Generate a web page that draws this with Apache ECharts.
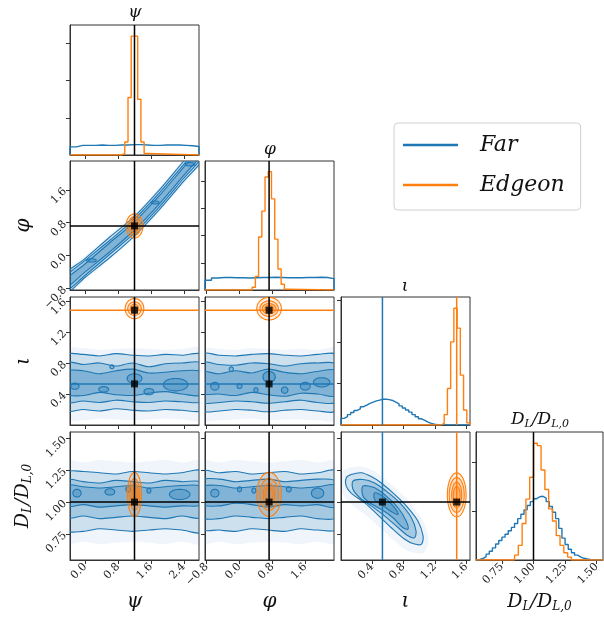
<!DOCTYPE html>
<html><head><meta charset="utf-8">
<script src="https://cdn.jsdelivr.net/npm/echarts@6/dist/echarts.min.js"></script>
<style>html,body{margin:0;padding:0;background:#fff}#c{width:604px;height:617px}</style>
</head><body><div id="c"></div>
<script>
// ---------------- DATA ----------------
const varNames = ['ψ', 'φ', 'ι', '{m|D}{s|L}{m|/D}{s|L,0}'];
const psiRange = [-0.37, 2.77];
const phiRange = [-0.84, 2.30];
const iotaRange = [0.0, 1.65];
const dlRange = [0.545, 1.55];
const psiTicks = [0.0, 0.8, 1.6, 2.4];
const phiTicks = [-0.8, 0.0, 0.8, 1.6];
const iotaTicks = [0.4, 0.8, 1.2, 1.6];
const dlTicks = [0.75, 1.00, 1.25, 1.50];
const tickDecimals = [1, 1, 1, 2];
// diagonal density axes
const psiDiagRange = [0, 3.5], psiDiagTicks = [1, 2, 3];
const phiDiagRange = [0, 4.74], phiDiagTicks = [1, 2, 3, 4];
const iotaDiagRange = [0, 3.08], iotaDiagTicks = [1, 2, 3];
const dlDiagRange = [0, 2.63], dlDiagTicks = [1, 2];

// truths
const truthPsi = 1.2, truthPhi = 0.72, truthIotaFar = 0.53, truthIotaEdge = 1.48, truthDL = 1.0;

// 1D histograms: [first bin edge, bin width, heights]
const psiHistFar = [-0.37, 0.157, [0.22,0.26,0.26,0.26,0.27,0.26,0.26,0.27,0.27,0.28,0.28,0.27,0.26,0.26,0.27,0.27,0.27,0.26,0.25,0.23]];
const psiHistEdge = [0.885, 0.0785, [0.04,0.35,1.55,3.2,3.2,1.5,0.35,0.04]];
const phiHistFar = [-0.84, 0.157, [0.36,0.44,0.46,0.46,0.45,0.45,0.44,0.45,0.46,0.46,0.47,0.46,0.45,0.45,0.45,0.46,0.46,0.47,0.46,0.42]];
const phiHistEdge = [0.3075, 0.0785, [0.1,0.5,1.95,2.9,4.15,4.35,3.35,1.87,0.77,0.21,0.03]];
const iotaHistFar = [0.0, 0.04125, [0.16,0.2,0.25,0.3,0.35,0.39,0.44,0.48,0.52,0.55,0.58,0.6,0.62,0.62,0.61,0.59,0.55,0.51,0.46,0.41,0.36,0.31,0.25,0.2,0.15,0.11,0.07,0.04,0.02,0.01]];
const iotaHistEdge = [1.2788, 0.04125, [0.04,0.25,0.88,2.0,2.81,2.33,1.2,0.36,0.05]];
const dlHistFar = [0.55, 0.025, [0.01,0.03,0.07,0.12,0.18,0.25,0.33,0.4,0.47,0.53,0.6,0.67,0.75,0.85,0.94,1.03,1.12,1.2,1.26,1.3,1.31,1.27,1.2,1.1,0.98,0.85,0.65,0.45,0.32,0.22,0.15,0.1,0.06,0.035,0.02,0.01]];
const dlHistEdge = [0.85, 0.03, [0.1,0.3,0.75,1.25,1.7,2.4,2.35,1.85,1.45,1.05,0.8,0.5,0.3,0.15,0.06]];

// Far 2D contours: bands [upper, lower] per level (haze, L1, L2, L3) at sample x values + inner blobs [cx, cy, rx, ry]
const psiSamples = [-0.45,-0.05,0.35,0.75,1.15,1.55,1.95,2.35,2.85];
const phiSamples = [-0.9,-0.5,-0.1,0.3,0.7,1.1,1.5,1.9,2.35];
const diagSamples = [-0.6,0.0,0.6,1.2,1.8,2.4,3.0];

const psiPhiBands = [
  [[-0.50,0.00,0.50,1.02,1.65,2.35,3.05],[-1.10,-0.60,-0.10,0.42,1.05,1.75,2.45]],
  [[-0.56,-0.07,0.45,0.95,1.59,2.30,2.99],[-1.04,-0.53,-0.05,0.48,1.11,1.81,2.51]],
  [[-0.63,-0.12,0.37,0.89,1.52,2.22,2.92],[-0.97,-0.48,0.03,0.55,1.18,1.88,2.58]],
  [[-0.70,-0.20,0.31,0.82,1.45,2.15,2.85],[-0.90,-0.40,0.09,0.62,1.25,1.95,2.65]]
];
const psiPhiBlobs = [[0.15,-0.12,0.12,0.04],[1.7,1.29,0.1,0.035],[2.55,2.22,0.12,0.04]];

const psiIotaBands = [
  [[0.98,0.99,0.97,0.98,0.99,0.98,0.97,0.98,0.98],[0.07,0.06,0.08,0.07,0.06,0.07,0.08,0.07,0.07]],
  [[0.90,0.91,0.89,0.92,0.90,0.89,0.91,0.90,0.90],[0.19,0.20,0.18,0.21,0.19,0.18,0.20,0.19,0.20]],
  [[0.80,0.78,0.80,0.76,0.80,0.75,0.79,0.80,0.79],[0.30,0.31,0.29,0.32,0.30,0.29,0.31,0.30,0.31]],
  [[0.69,0.70,0.66,0.70,0.72,0.67,0.68,0.70,0.68],[0.40,0.38,0.42,0.39,0.38,0.41,0.43,0.40,0.39]]
];
const psiIotaBlobs = [[-0.25,0.5,0.1,0.04],[0.45,0.46,0.12,0.035],[1.2,0.6,0.18,0.06],[1.55,0.43,0.12,0.04],[2.2,0.52,0.3,0.08],[0.65,0.75,0.05,0.025]];

const phiIotaBands = [
  [[0.97,0.98,0.97,0.99,0.98,0.97,0.98,0.97,0.98],[0.07,0.06,0.07,0.08,0.06,0.07,0.07,0.06,0.07]],
  [[0.91,0.90,0.89,0.91,0.92,0.90,0.89,0.91,0.90],[0.19,0.18,0.20,0.19,0.17,0.19,0.20,0.18,0.19]],
  [[0.80,0.78,0.77,0.80,0.79,0.76,0.79,0.80,0.78],[0.30,0.29,0.31,0.30,0.28,0.30,0.32,0.29,0.30]],
  [[0.68,0.66,0.70,0.67,0.72,0.68,0.66,0.69,0.70],[0.41,0.40,0.38,0.42,0.39,0.37,0.41,0.40,0.38]]
];
const phiIotaBlobs = [[-0.6,0.5,0.1,0.05],[0.0,0.5,0.06,0.03],[0.4,0.45,0.05,0.03],[0.72,0.62,0.15,0.07],[1.1,0.45,0.08,0.04],[1.6,0.5,0.12,0.05],[2.0,0.55,0.2,0.06],[-0.2,0.72,0.05,0.03]];

const psiDlBands = [
  [[1.32,1.31,1.33,1.32,1.31,1.32,1.33,1.31,1.32],[0.68,0.69,0.67,0.68,0.69,0.68,0.67,0.69,0.68]],
  [[1.23,1.24,1.23,1.22,1.24,1.23,1.22,1.23,1.24],[0.78,0.77,0.79,0.78,0.77,0.78,0.79,0.78,0.77]],
  [[1.17,1.16,1.15,1.17,1.16,1.15,1.17,1.16,1.15],[0.88,0.89,0.87,0.88,0.89,0.88,0.87,0.89,0.88]],
  [[1.13,1.12,1.11,1.12,1.13,1.11,1.12,1.13,1.12],[0.97,0.98,0.96,0.97,0.98,0.97,0.96,0.97,0.98]]
];
const psiDlBlobs = [[-0.2,1.07,0.1,0.03],[0.6,1.08,0.12,0.025],[1.05,1.1,0.06,0.02],[1.55,1.09,0.05,0.02],[2.3,1.06,0.25,0.04]];

const phiDlBands = [
  [[1.32,1.31,1.33,1.32,1.31,1.32,1.33,1.31,1.32],[0.68,0.69,0.67,0.68,0.69,0.68,0.67,0.69,0.68]],
  [[1.24,1.23,1.24,1.22,1.23,1.24,1.22,1.23,1.24],[0.79,0.78,0.77,0.79,0.78,0.77,0.79,0.78,0.79]],
  [[1.17,1.18,1.16,1.17,1.18,1.16,1.17,1.18,1.16],[0.88,0.87,0.89,0.88,0.87,0.88,0.89,0.87,0.88]],
  [[1.12,1.13,1.11,1.12,1.13,1.12,1.11,1.12,1.13],[0.98,0.97,0.99,0.98,0.96,0.98,0.97,0.98,0.96]]
];
const phiDlBlobs = [[-0.6,1.07,0.1,0.03],[0.0,1.1,0.05,0.02],[0.35,1.09,0.05,0.02],[1.2,1.1,0.06,0.02],[1.9,1.07,0.15,0.04]];

// iota - D_L (Far): closed contours, [iota, D] vertices, haze -> innermost
const iotaDlFar = [
  [[0.02,1.24],[0.2,1.28],[0.4,1.25],[0.6,1.16],[0.85,1.02],[1.05,0.85],[1.12,0.7],[1.05,0.6],[0.85,0.62],[0.6,0.74],[0.35,0.88],[0.1,1.0],[0.0,1.1]],
  [[0.067,1.19],[0.13,1.216],[0.26,1.23],[0.387,1.20],[0.515,1.15],[0.686,1.06],[0.857,0.955],[0.985,0.85],[1.05,0.735],[1.03,0.67],[0.94,0.67],[0.81,0.71],[0.64,0.80],[0.47,0.90],[0.30,0.995],[0.13,1.07],[0.067,1.125]],
  [[0.153,1.164],[0.28,1.177],[0.43,1.15],[0.58,1.086],[0.75,0.995],[0.90,0.877],[0.96,0.773],[0.94,0.72],[0.857,0.735],[0.73,0.80],[0.56,0.89],[0.387,0.97],[0.24,1.034],[0.153,1.10]],
  [[0.28,1.125],[0.43,1.112],[0.58,1.047],[0.73,0.955],[0.835,0.85],[0.857,0.787],[0.79,0.80],[0.665,0.877],[0.515,0.943],[0.365,0.995],[0.28,1.047]],
  [[0.43,1.073],[0.56,1.034],[0.686,0.955],[0.73,0.904],[0.665,0.917],[0.54,0.97],[0.43,1.02]]
];

// Edgeon contours: centre + nested semi-axes (data units)
const psiPhiEdge = [[1.2,0.72],[[0.206,0.294],[0.145,0.23],[0.09,0.176],[0.05,0.11]]];
const psiIotaEdge = [[1.2,1.50],[[0.227,0.13],[0.165,0.086],[0.10,0.056],[0.05,0.03]]];
const phiIotaEdge = [[0.72,1.50],[[0.30,0.146],[0.225,0.10],[0.165,0.065],[0.10,0.043]]];
const psiDlEdge = [[1.2,1.06],[[0.173,0.173],[0.13,0.124],[0.09,0.085],[0.05,0.05]]];
const phiDlEdge = [[0.72,1.06],[[0.30,0.173],[0.23,0.124],[0.145,0.085],[0.095,0.057]]];
const iotaDlEdge = [[1.48,1.056],[[0.12,0.173],[0.096,0.137],[0.064,0.1],[0.043,0.065]]];

// ---------------- LAYOUT / STYLE ----------------
const BLUE = '#1f77b4', ORANGE = '#ff7f0e';
const colX = [70, 205, 341, 476], colW = [129, 129, 129, 127];
const rowY = [25, 161, 297, 432], rowH = [130, 129, 128, 128];
const ranges = [psiRange, phiRange, iotaRange, dlRange];
const ticks = [psiTicks, phiTicks, iotaTicks, dlTicks];
const diagRanges = [psiDiagRange, phiDiagRange, iotaDiagRange, dlDiagRange];
const diagTicks = [psiDiagTicks, phiDiagTicks, iotaDiagTicks, dlDiagTicks];
const SERIF = 'DejaVu Serif';
const richSub = {
  m: {fontFamily: SERIF, fontStyle: 'italic', fontSize: 19, color: '#111'},
  s: {fontFamily: SERIF, fontStyle: 'italic', fontSize: 12, color: '#111', padding: [9, 0, 0, 0]}
};
const richSubT = {
  m: {fontFamily: SERIF, fontStyle: 'italic', fontSize: 17, color: '#111'},
  s: {fontFamily: SERIF, fontStyle: 'italic', fontSize: 11, color: '#111', padding: [8, 0, 0, 0]}
};

function fmt(v, d) { const s = Math.abs(v).toFixed(d); return v < -1e-9 ? '\u2212' + s : s; }

function makeAxis(dim, gi, range, tv, d, showLabel, name) {
  const ax = {
    type: 'value', gridIndex: gi, min: range[0], max: range[1],
    axisLine: {show: true, onZero: false, lineStyle: {color: '#333', width: 1}},
    axisTick: {show: true, inside: false, length: 4, customValues: tv, lineStyle: {color: '#333'}},
    axisLabel: {show: showLabel, customValues: tv, rotate: 45, margin: 5, fontFamily: SERIF, fontSize: 11, color: '#222',
      formatter: v => fmt(v, d)},
    splitLine: {show: false}
  };
  if (name) {
    ax.name = name; ax.nameLocation = 'middle';
    ax.nameGap = dim === 'x' ? 32 : 36;
    ax.nameTextStyle = {fontFamily: SERIF, fontStyle: 'italic', fontSize: 20, color: '#111', rich: richSub};
  }
  return ax;
}

const grids = [], xAxes = [], yAxes = [], series = [];
const G = {};
let gi = 0;
for (let r = 0; r < 4; r++) for (let c = 0; c <= r; c++) {
  G[r + ',' + c] = gi;
  grids.push({left: colX[c], top: rowY[r], width: colW[c], height: rowH[r], show: true, borderColor: '#333', borderWidth: 1});
  xAxes.push(makeAxis('x', gi, ranges[c], ticks[c], tickDecimals[c], r === 3, r === 3 ? varNames[c] : ''));
  if (r === c) yAxes.push(makeAxis('y', gi, diagRanges[r], diagTicks[r], 0, false, ''));
  else yAxes.push(makeAxis('y', gi, ranges[r], ticks[r], tickDecimals[r], c === 0, c === 0 ? varNames[r] : ''));
  gi++;
}

function histSeries(g, h, xr, color, name) {
  const [lo, w, hs] = h;
  const pts = [[xr[0], 0]];
  hs.forEach((v, i) => pts.push([lo + i * w, v]));
  pts.push([lo + hs.length * w, 0]);
  pts.push([xr[1], 0]);
  return {type: 'line', name: name, step: 'end', xAxisIndex: g, yAxisIndex: g, data: pts, symbol: 'none',
    clip: true, silent: true, z: 3, lineStyle: {color: color, width: 1.4}, itemStyle: {color: color}};
}

function shapeSeries(g, shapes, z) {
  return {
    type: 'custom', xAxisIndex: g, yAxisIndex: g, clip: true, silent: true, z: z,
    data: shapes.map(s => s.pts ? s.pts[0] : [s.e[0], s.e[1]]),
    renderItem: function (params, api) {
      const s = shapes[params.dataIndex];
      let points;
      if (s.pts) points = s.pts.map(p => api.coord(p));
      else {
        const c = api.coord([s.e[0], s.e[1]]);
        const sz = api.size([s.e[2], s.e[3]]);
        points = [];
        for (let k = 0; k < 60; k++) {
          const t = k / 60 * 2 * Math.PI;
          points.push([c[0] + sz[0] * Math.cos(t), c[1] + sz[1] * Math.sin(t)]);
        }
      }
      return {type: 'polygon', shape: {points: points, smooth: s.pts ? 0.3 : 0},
        style: {fill: s.fill, stroke: s.stroke || 'none', lineWidth: s.lw || 1.1}};
    }
  };
}

const farFill = ['rgba(31,119,180,0.07)', 'rgba(31,119,180,0.17)', 'rgba(31,119,180,0.23)', 'rgba(31,119,180,0.27)', 'rgba(31,119,180,0.26)'];
function bandShapes(xs, bands, blobs) {
  const out = [];
  bands.forEach((b, k) => {
    const pts = xs.map((x, i) => [x, b[0][i]]).concat(xs.map((x, i) => [x, b[1][i]]).reverse());
    out.push({pts: pts, fill: farFill[k], stroke: k === 0 ? null : BLUE});
  });
  blobs.forEach(e => out.push({e: e, fill: farFill[4], stroke: BLUE}));
  return out;
}
function polyShapes(polys) {
  return polys.map((p, k) => ({pts: p, fill: farFill[k], stroke: k === 0 ? null : BLUE}));
}
function edgeShapes(ed) {
  const [c, radii] = ed;
  return radii.map((r, k) => ({e: [c[0], c[1], r[0], r[1]], fill: 'rgba(255,127,14,' + (k === 0 ? 0.12 : 0.2) + ')', stroke: ORANGE, lw: 1.1}));
}
function vline(g, x, yr, color) {
  return {type: 'line', xAxisIndex: g, yAxisIndex: g, data: [[x, yr[0]], [x, yr[1]]], symbol: 'none', silent: true, z: 5,
    lineStyle: {color: color, width: 1.5}};
}
function hline(g, y, xr, color) {
  return {type: 'line', xAxisIndex: g, yAxisIndex: g, data: [[xr[0], y], [xr[1], y]], symbol: 'none', silent: true, z: 5,
    lineStyle: {color: color, width: 1.5}};
}
function squares(g, pts) {
  return {type: 'scatter', xAxisIndex: g, yAxisIndex: g, data: pts, symbol: 'rect', symbolSize: 7, silent: true, z: 6,
    itemStyle: {color: '#000'}};
}

// diagonal panels
let g;
g = G['0,0'];
series.push(histSeries(g, psiHistFar, psiRange, BLUE, 'Far'), histSeries(g, psiHistEdge, psiRange, ORANGE, 'Edgeon'),
  vline(g, truthPsi, psiDiagRange, '#000'));
g = G['1,1'];
series.push(histSeries(g, phiHistFar, phiRange, BLUE, 'Far'), histSeries(g, phiHistEdge, phiRange, ORANGE, 'Edgeon'),
  vline(g, truthPhi, phiDiagRange, '#000'));
g = G['2,2'];
series.push(histSeries(g, iotaHistFar, iotaRange, BLUE, 'Far'), histSeries(g, iotaHistEdge, iotaRange, ORANGE, 'Edgeon'),
  vline(g, truthIotaFar, iotaDiagRange, BLUE), vline(g, truthIotaEdge, iotaDiagRange, ORANGE));
g = G['3,3'];
series.push(histSeries(g, dlHistFar, dlRange, BLUE, 'Far'), histSeries(g, dlHistEdge, dlRange, ORANGE, 'Edgeon'),
  vline(g, truthDL, dlDiagRange, '#000'));

// psi - phi
g = G['1,0'];
series.push(shapeSeries(g, bandShapes(diagSamples, psiPhiBands, psiPhiBlobs), 2), shapeSeries(g, edgeShapes(psiPhiEdge), 3),
  vline(g, truthPsi, phiRange, '#000'), hline(g, truthPhi, psiRange, '#000'), squares(g, [[truthPsi, truthPhi]]));
// psi - iota
g = G['2,0'];
series.push(shapeSeries(g, bandShapes(psiSamples, psiIotaBands, psiIotaBlobs), 2), shapeSeries(g, edgeShapes(psiIotaEdge), 3),
  hline(g, truthIotaFar, psiRange, BLUE), hline(g, truthIotaEdge, psiRange, ORANGE), vline(g, truthPsi, iotaRange, '#000'),
  squares(g, [[truthPsi, truthIotaFar], [truthPsi, truthIotaEdge]]));
// phi - iota
g = G['2,1'];
series.push(shapeSeries(g, bandShapes(phiSamples, phiIotaBands, phiIotaBlobs), 2), shapeSeries(g, edgeShapes(phiIotaEdge), 3),
  hline(g, truthIotaFar, phiRange, BLUE), hline(g, truthIotaEdge, phiRange, ORANGE), vline(g, truthPhi, iotaRange, '#000'),
  squares(g, [[truthPhi, truthIotaFar], [truthPhi, truthIotaEdge]]));
// psi - DL
g = G['3,0'];
series.push(shapeSeries(g, bandShapes(psiSamples, psiDlBands, psiDlBlobs), 2), shapeSeries(g, edgeShapes(psiDlEdge), 3),
  vline(g, truthPsi, dlRange, '#000'), hline(g, truthDL, psiRange, '#000'), squares(g, [[truthPsi, truthDL]]));
// phi - DL
g = G['3,1'];
series.push(shapeSeries(g, bandShapes(phiSamples, phiDlBands, phiDlBlobs), 2), shapeSeries(g, edgeShapes(phiDlEdge), 3),
  vline(g, truthPhi, dlRange, '#000'), hline(g, truthDL, phiRange, '#000'), squares(g, [[truthPhi, truthDL]]));
// iota - DL
g = G['3,2'];
series.push(shapeSeries(g, polyShapes(iotaDlFar), 2), shapeSeries(g, edgeShapes(iotaDlEdge), 3),
  vline(g, truthIotaFar, dlRange, BLUE), vline(g, truthIotaEdge, dlRange, ORANGE), hline(g, truthDL, iotaRange, '#000'),
  squares(g, [[truthIotaFar, truthDL], [truthIotaEdge, truthDL]]));

const titleText = (x, y, t, size) => ({type: 'text', x: x, y: y, silent: true,
  style: {text: t, align: 'center', verticalAlign: 'middle', fontFamily: SERIF, fontStyle: 'italic', fontSize: size, fill: '#111', rich: richSubT}});

const option = {
  animation: false,
  color: [BLUE, ORANGE],
  grid: grids, xAxis: xAxes, yAxis: yAxes, series: series,
  legend: {
    orient: 'vertical', left: 394, top: 123, selectedMode: false,
    data: [{name: 'Far', icon: 'rect'}, {name: 'Edgeon', icon: 'rect'}],
    itemWidth: 55, itemHeight: 2.5, itemGap: 18, padding: [11, 16, 14, 9],
    borderColor: '#d0d0d0', borderWidth: 1, borderRadius: 4,
    textStyle: {fontFamily: SERIF, fontStyle: 'italic', fontSize: 22, color: '#111', padding: [0, 0, 0, 17]}
  },
  graphic: [
    titleText(135, 13, varNames[0], 17),
    titleText(270, 150, varNames[1], 17),
    titleText(405, 287, varNames[2], 17),
    titleText(540, 420, varNames[3], 17)
  ]
};
const chart = echarts.init(document.getElementById('c'), null, {renderer: 'canvas', width: 604, height: 617});
chart.setOption(option);
</script></body></html>
